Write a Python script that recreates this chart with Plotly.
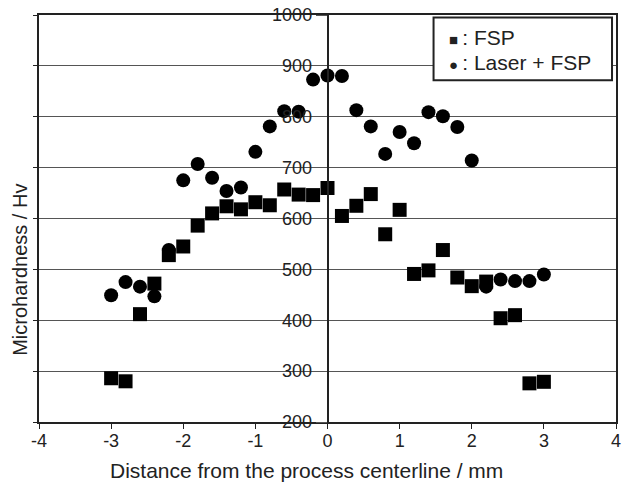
import plotly.graph_objects as go

x_pos = [-3.0, -2.8, -2.6, -2.4, -2.2, -2.0, -1.8, -1.6, -1.4, -1.2, -1.0,
         -0.8, -0.6, -0.4, -0.2, 0.0, 0.2, 0.4, 0.6, 0.8, 1.0,
         1.2, 1.4, 1.6, 1.8, 2.0, 2.2, 2.4, 2.6, 2.8, 3.0]

fsp = [286, 280, 412, 472, 528, 545, 586, 610, 624, 618, 632,
       626, 657, 647, 646, 660, 605, 625, 648, 569, 617,
       491, 498, 538, 484, 467, 476, 404, 410, 276, 279]

laser_fsp = [449, 475, 466, 447, 538, 675, 707, 680, 654, 661, 731,
             781, 811, 810, 873, 881, 880, 813, 781, 727, 770,
             748, 809, 801, 780, 714, 466, 480, 477, 477, 490]

x_ticks = [-4, -3, -2, -1, 0, 1, 2, 3, 4]
y_ticks = [200, 300, 400, 500, 600, 700, 800, 900, 1000]

FONT = "Liberation Sans, Arial, sans-serif"

fig = go.Figure()
fig.add_trace(go.Scatter(x=x_pos, y=fsp, mode="markers", name="FSP",
                         marker=dict(symbol="square", size=14, color="black")))
fig.add_trace(go.Scatter(x=x_pos, y=laser_fsp, mode="markers", name="Laser + FSP",
                         marker=dict(symbol="circle", size=14, color="black")))

fig.update_layout(
    width=625, height=484,
    margin=dict(l=39, r=4, t=15, b=62),
    plot_bgcolor="white", paper_bgcolor="white",
    showlegend=False,
    font=dict(family=FONT, size=18, color="#222"),
    xaxis=dict(range=[-4, 4], tickvals=x_ticks, ticktext=[str(v) for v in x_ticks],
               showgrid=False, zeroline=False, showline=True, linecolor="#222",
               linewidth=1.5, mirror=True, ticks="outside", ticklen=5, tickcolor="#222",
               tickfont=dict(size=18), ticklabelstandoff=-3),
    yaxis=dict(range=[200, 1000], tickvals=y_ticks, anchor="free", position=0.5,
               showgrid=True, gridcolor="#555", gridwidth=1, zeroline=False,
               showline=True, linecolor="#222", linewidth=1.5,
               ticks="outside", ticklen=11, tickcolor="#555", tickwidth=1,
               tickfont=dict(size=18)),
    yaxis2=dict(range=[200, 1000], tickvals=y_ticks, overlaying="y", anchor="x",
                side="left", showgrid=False, zeroline=False, showline=True,
                linecolor="#222", linewidth=1.5, mirror=True,
                ticks="outside", ticklen=4, tickcolor="#222", showticklabels=False),
)

# invisible trace to keep yaxis2 drawn
fig.add_trace(go.Scatter(x=[None], y=[None], yaxis="y2", showlegend=False,
                         hoverinfo="skip"))

# axis titles
fig.add_annotation(xref="paper", yref="paper", x=0.463, y=-0.118,
                   xanchor="center", yanchor="middle", showarrow=False,
                   text="Distance from the process centerline / mm",
                   font=dict(size=21, color="#222", family=FONT))
fig.add_annotation(xref="paper", yref="paper", x=-0.032, y=0.3727,
                   xanchor="center", yanchor="middle", showarrow=False,
                   textangle=-90, text="Microhardness / Hv",
                   font=dict(size=20, color="#222", family=FONT))

# legend box
fig.add_shape(type="rect", xref="paper", yref="paper",
              x0=0.6838, x1=0.9931, y0=0.8396, y1=0.9936,
              line=dict(color="#222", width=2), fillcolor="white", layer="above")
fig.add_annotation(xref="paper", yref="paper", x=0.7067, y=0.9435,
                   xanchor="left", yanchor="middle", showarrow=False,
                   text="<span style='font-size:15px'>■</span>\u2009: FSP",
                   font=dict(size=21, color="#222", family=FONT))
fig.add_annotation(xref="paper", yref="paper", x=0.7067, y=0.8845,
                   xanchor="left", yanchor="middle", showarrow=False,
                   text="<span style='font-size:15px'>●</span>\u2009: Laser + FSP",
                   font=dict(size=21, color="#222", family=FONT))

fig.write_html("out.html")
